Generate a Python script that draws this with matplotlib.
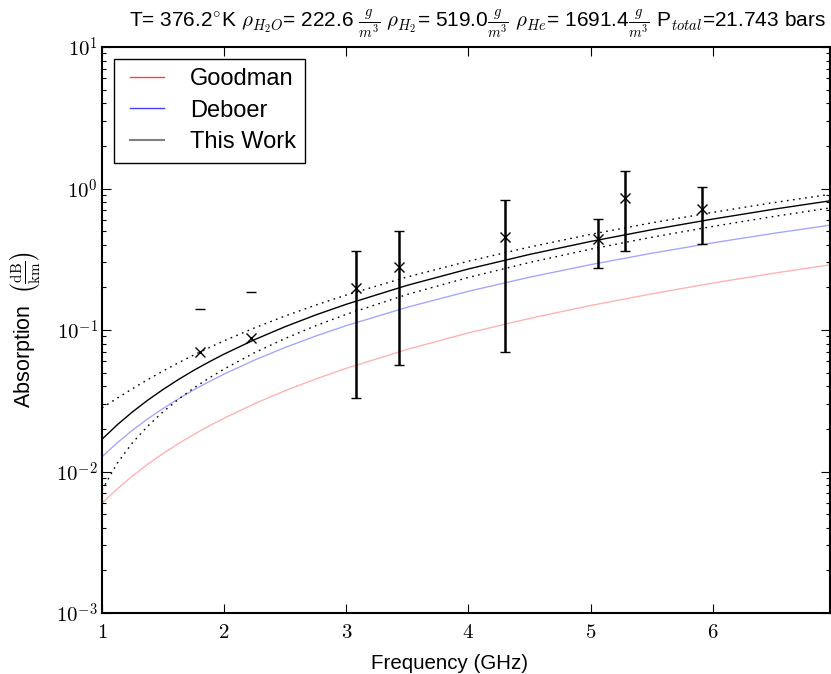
import numpy as np
import matplotlib
matplotlib.use("Agg")
import matplotlib.pyplot as plt
from matplotlib.lines import Line2D
from matplotlib.ticker import FuncFormatter, LogLocator, FixedLocator, NullLocator

plt.rcParams['font.family'] = ['Liberation Sans', 'DejaVu Sans']
plt.rcParams['mathtext.fontset'] = 'cm'

# ===== model curves =====
freq = [1.0, 1.125, 1.25, 1.375, 1.5, 1.625, 1.75, 1.875, 2.0, 2.25, 2.5, 2.75,
        3.0, 3.5, 4.0, 4.5, 5.0, 5.5, 6.0, 6.5, 7.0]
goodman = [0.00596, 0.00754, 0.00931, 0.01127, 0.0134, 0.01574, 0.01825, 0.02095,
           0.0238, 0.03017, 0.0373, 0.04507, 0.0536, 0.0730, 0.0954, 0.1207,
           0.149, 0.180, 0.2146, 0.252, 0.292]
deboer = [0.0127, 0.01597, 0.0196, 0.02358, 0.0279, 0.03262, 0.0377, 0.04308,
          0.0488, 0.06139, 0.0753, 0.09067, 0.1074, 0.1449, 0.1878, 0.2361,
          0.2897, 0.3486, 0.4129, 0.4823, 0.5568]
this_work = [0.0169, 0.02139, 0.0264, 0.03195, 0.0380, 0.04463, 0.0518, 0.05941,
             0.0676, 0.08556, 0.1056, 0.1278, 0.152, 0.207, 0.270, 0.342,
             0.4225, 0.511, 0.608, 0.714, 0.828]
this_work_hi = [0.0281, 0.03303, 0.0385, 0.04465, 0.0513, 0.05859, 0.0665, 0.07485,
                0.0839, 0.10362, 0.1257, 0.15008, 0.1767, 0.2372, 0.3065, 0.3857,
                0.4743, 0.5716, 0.6783, 0.795, 0.920]
this_work_lo = [0.0074, 0.01145, 0.0160, 0.02096, 0.0264, 0.03237, 0.0388, 0.04567,
                0.0530, 0.0692, 0.0872, 0.10722, 0.1290, 0.1785, 0.2352, 0.3000,
                0.3725, 0.4521, 0.5394, 0.6348, 0.7374]

# ===== measurements =====
meas_freq = [1.80, 2.22, 3.08, 3.43, 4.30, 5.06, 5.28, 5.91]
meas_alpha = [0.0695, 0.0874, 0.197, 0.280, 0.453, 0.440, 0.850, 0.713]
meas_err = [0.0705, 0.097, 0.164, 0.223, 0.383, 0.167, 0.49, 0.307]

title = (r'T= 376.2$^{\circ}$K $\rho_{H_2O}$= 222.6 $\frac{g}{m^3}$ '
         r'$\rho_{H_2}$= 519.0$\frac{g}{m^3}$ $\rho_{He}$= 1691.4$\frac{g}{m^3}$ '
         r'P$_{total}$=21.743 bars')

fig = plt.figure(figsize=(8.31, 6.74), dpi=100)
ax = fig.add_axes([102 / 831, 61 / 674, 728 / 831, 566 / 674])
ax.set_yscale('log', nonpositive='mask')

ax.plot(freq, goodman, color='red', alpha=0.3, lw=1)
ax.plot(freq, deboer, color='blue', alpha=0.35, lw=1)
ax.plot(freq, this_work, color='black', lw=1)
ax.plot(freq, this_work_hi, color='black', lw=1, dashes=(1.2, 3.2))
ax.plot(freq, this_work_lo, color='black', lw=1, dashes=(1.2, 3.2))

ax.errorbar(meas_freq, meas_alpha, yerr=meas_err, fmt='x', color='black',
            ms=7, mew=1, elinewidth=1.8, capsize=3.8, capthick=1.2)

ax.set_xlim(1, 6.96)
ax.set_ylim(1e-3, 1e1)

ax.xaxis.set_major_locator(FixedLocator([1, 2, 3, 4, 5, 6]))
ax.xaxis.set_minor_locator(NullLocator())
ax.xaxis.set_major_formatter(FuncFormatter(lambda v, p: r'$%d$' % round(v)))
ax.yaxis.set_major_locator(LogLocator(base=10, numticks=10))
ax.yaxis.set_minor_locator(LogLocator(base=10, subs=np.arange(2, 10), numticks=20))
ax.yaxis.set_major_formatter(FuncFormatter(lambda v, p: r'$10^{%d}$' % round(np.log10(v))))

ax.tick_params(which='both', direction='in', top=True, right=True, labelsize=15)
ax.tick_params(which='major', length=6.5, width=0.8)
ax.tick_params(axis='x', which='major', pad=7)
ax.tick_params(axis='y', which='major', pad=3)
ax.tick_params(which='minor', length=3, width=0.8)
for s in ax.spines.values():
    s.set_linewidth(1.5)

ax.set_xlabel('Frequency (GHz)', fontsize=14.8)
ax.xaxis.set_label_coords(0.478, -0.072)
ax.set_ylabel(r'Absorption $\;\left(\frac{\rm dB}{\rm km}\right)$', fontsize=15.5)
ax.yaxis.set_label_coords(-0.082, 0.5)
ax.set_title(title, fontsize=15, x=0.516, pad=14)

handles = [Line2D([], [], color='red', alpha=0.75, lw=1),
           Line2D([], [], color='blue', alpha=0.75, lw=1),
           Line2D([], [], color='gray', lw=1.5)]
leg = ax.legend(handles, ['Goodman', 'Deboer', 'This Work'], loc='upper left',
                fontsize=17, fancybox=False, framealpha=1, edgecolor='black',
                numpoints=2, handlelength=2.04, handletextpad=0.78,
                labelspacing=0.4, borderpad=0.4, borderaxespad=0.5)
leg.get_frame().set_linewidth(1.0)

fig.savefig('out.png', dpi=100)
